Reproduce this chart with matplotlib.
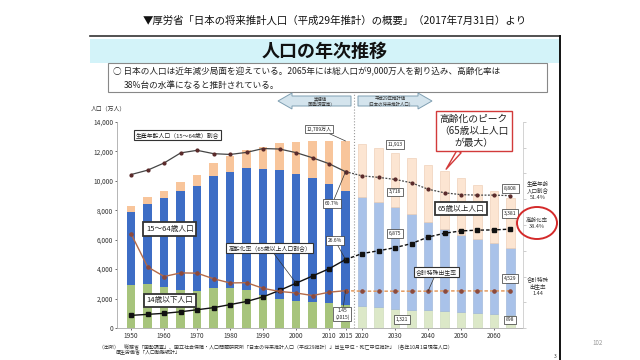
import matplotlib.pyplot as plt
from matplotlib.patches import Polygon, Ellipse, Rectangle
import numpy as np

plt.rcParams['font.family'] = ['Noto Sans CJK JP', 'DejaVu Sans']

#%% データ（万人）
years_act = [1950, 1955, 1960, 1965, 1970, 1975, 1980, 1985, 1990, 1995, 2000, 2005, 2010, 2015]
kids_act = [2943, 2980, 2807, 2553, 2482, 2722, 2751, 2603, 2249, 2001, 1847, 1752, 1680, 1595]
work_act = [4966, 5473, 6000, 6744, 7157, 7581, 7883, 8251, 8590, 8716, 8622, 8409, 8103, 7728]
old_act = [411, 475, 535, 624, 733, 887, 1065, 1247, 1489, 1826, 2204, 2576, 2925, 3387]

years_proj = [2020, 2025, 2030, 2035, 2040, 2045, 2050, 2055, 2060, 2065]
kids_proj = [1507, 1407, 1321, 1246, 1194, 1138, 1077, 1012, 951, 898]
work_proj = [7406, 7170, 6875, 6494, 5978, 5584, 5275, 5028, 4793, 4529]
old_proj = [3619, 3677, 3716, 3782, 3921, 3919, 3841, 3704, 3540, 3381]

# 割合（%）と合計特殊出生率
work_ratio = [59.6, 61.3, 64.1, 68.0, 69.0, 67.7, 67.4, 68.2, 69.7, 69.5, 68.1, 66.1, 63.8, 60.7,
              59.1, 58.5, 57.7, 56.4, 53.9, 52.5, 51.8, 51.6, 51.6, 51.4]
aging_rate = [4.9, 5.3, 5.7, 6.3, 7.1, 7.9, 9.1, 10.3, 12.1, 14.6, 17.4, 20.2, 23.0, 26.6,
              28.9, 30.0, 31.2, 32.8, 35.3, 36.8, 37.7, 38.0, 38.1, 38.4]
tfr = [3.65, 2.37, 2.00, 2.14, 2.13, 1.91, 1.75, 1.76, 1.54, 1.42, 1.36, 1.26, 1.39, 1.45,
       1.43, 1.43, 1.43, 1.43, 1.43, 1.44, 1.44, 1.44, 1.44, 1.44]

xtick_years = [1950, 1960, 1970, 1980, 1990, 2000, 2010, 2015, 2020, 2030, 2040, 2050, 2060]


def P(x, y):
    # 画面のピクセル(左上原点) -> figure座標
    return (x / 640, 1 - y / 360)


fig = plt.figure(figsize=(6.4, 3.6), dpi=100)
fig.patch.set_facecolor('white')

#%% 見出し部分
fig.text(*P(335, 21), '▼厚労省「日本の将来推計人口（平成29年推計）の概要」（2017年7月31日）より',
         ha='center', va='center', fontsize=7.5, color='#111')

fig.add_artist(plt.Line2D([90/640, 560/640], [1-36/360]*2, color='#333', lw=1.2))
fig.add_artist(plt.Line2D([560/640]*2, [1-36/360, 0], color='#111', lw=1.4))
fig.add_artist(Rectangle(P(90, 63), 470/640, 24/360, transform=fig.transFigure,
                         fc='#d3f3f9', ec='none'))
fig.text(*P(325, 51), '人口の年次推移', ha='center', va='center', fontsize=13,
         fontweight='bold', color='#111')

fig.add_artist(Rectangle(P(108, 92), 439/640, 29/360, transform=fig.transFigure,
                         fill=False, ec='#888', lw=0.8))
fig.text(*P(113, 72), '○ 日本の人口は近年減少局面を迎えている。2065年には総人口が9,000万人を割り込み、高齢化率は',
         ha='left', va='center', fontsize=6.2, color='#222')
fig.text(*P(124, 85), '38%台の水準になると推計されている。', ha='left', va='center',
         fontsize=6.2, color='#222')


def arrow(x0, x1, yc, left):
    hl, hh, bh = 14, 8, 5
    if left:
        pts = [(x0, yc), (x0+hl, yc-hh), (x0+hl, yc-bh), (x1, yc-bh), (x1, yc+bh),
               (x0+hl, yc+bh), (x0+hl, yc+hh)]
    else:
        pts = [(x1, yc), (x1-hl, yc-hh), (x1-hl, yc-bh), (x0, yc-bh), (x0, yc+bh),
               (x1-hl, yc+bh), (x1-hl, yc+hh)]
    fig.add_artist(Polygon([P(*p) for p in pts], closed=True, transform=fig.transFigure,
                           fc='#d4e4ed', ec='#7f9fb2', lw=0.7))


arrow(278, 351, 101, True)
arrow(358, 432, 101, False)
fig.text(*P(320, 101), '実績値\n（国勢調査等）', ha='center', va='center', fontsize=3.2,
         color='#333', linespacing=1.2)
fig.text(*P(390, 101), '平成29年推計値\n（日本の将来推計人口）', ha='center', va='center',
         fontsize=3.2, color='#333', linespacing=1.2)

#%% グラフ本体
ax = fig.add_axes([117/640, 1-328/360, 406/640, 206/360])
w = 2.6
ka = np.array(kids_act); wa = np.array(work_act); oa = np.array(old_act)
kp = np.array(kids_proj); wp = np.array(work_proj); op = np.array(old_proj)
ax.bar(years_act, ka, width=w, color='#a7c47c')
ax.bar(years_act, wa, bottom=ka, width=w, color='#3d6dc5')
ax.bar(years_act, oa, bottom=ka+wa, width=w, color='#f8c59b')
ax.bar(years_proj, kp, width=w, color='#dce8c8', ec='#c9d7b3', lw=0.4)
ax.bar(years_proj, wp, bottom=kp, width=w, color='#a9c2e9', ec='#97b0d8', lw=0.4)
ax.bar(years_proj, op, bottom=kp+wp, width=w, color='#fce5d2', ec='#ecc9ad', lw=0.4)

ax.set_xlim(1945.7, 2068.8)
ax.set_ylim(0, 14000)
ax.set_yticks(range(0, 14001, 2000))
ax.set_yticklabels(['{:,}'.format(v) for v in range(0, 14001, 2000)])
ax.set_xticks(xtick_years)
ax.set_xticklabels([str(y) for y in xtick_years])
ax.tick_params(labelsize=4.7, colors='#333', length=1.5, width=0.5, pad=1.2)
for s in ['top', 'right']:
    ax.spines[s].set_visible(False)
for s in ['left', 'bottom']:
    ax.spines[s].set_color('#aaa')
    ax.spines[s].set_linewidth(0.6)

split = (years_act[-1] + years_proj[0]) / 2
ax.axvline(split, ymin=0, ymax=(328-93)/206, color='#999', ls=':', lw=0.8, clip_on=False)

fig.text(*P(108, 109), '人口（万人）', ha='center', va='center', fontsize=4.2, color='#333')

#%% 折れ線（右軸 0～80%）
ax2 = ax.twinx()
ax2.set_ylim(0, 80)
ax2.set_yticks(range(0, 81, 10))
ax2.set_yticklabels([])
ax2.tick_params(length=2, width=0.5, colors='#bbb')
for s in ['top', 'left', 'bottom']:
    ax2.spines[s].set_visible(False)
ax2.spines['right'].set_color('#ccc')
ax2.spines['right'].set_linewidth(0.6)

n = len(years_act)
yrs = years_act + years_proj
tfr10 = [v * 10 for v in tfr]
ax2.plot(years_act, work_ratio[:n], color='#454545', lw=0.9, marker='o', ms=2.0,
         mfc='#5a2a2a', mec='#5a2a2a')
ax2.plot(yrs[n-1:], work_ratio[n-1:], color='#454545', lw=0.9, ls=(0, (1.5, 1.2)),
         marker='o', ms=2.0, mfc='#5a2a2a', mec='#5a2a2a')
ax2.plot(years_act, aging_rate[:n], color='#111', lw=1.0, marker='s', ms=2.4)
ax2.plot(yrs[n-1:], aging_rate[n-1:], color='#111', lw=1.0, ls=(0, (2.5, 1.5)),
         marker='s', ms=2.4)
ax2.plot(years_act, tfr10[:n], color='#b46a48', lw=1.0, marker='o', ms=2.3,
         mfc='#8c4a3c', mec='#8c4a3c')
ax2.plot(yrs[n-1:], tfr10[n-1:], color='#e0904f', lw=1.0, ls=(0, (2.5, 1.5)),
         marker='o', ms=2.3, mfc='#8c4a3c', mec='#8c4a3c')


def label(text, xy, fs=3.6, lw=0.5, point=None, pt_ax=ax2):
    kw = dict(xycoords=ax.transData, textcoords=ax.transData)
    if point is not None:
        kw['xycoords'] = pt_ax.transData
        kw['arrowprops'] = dict(arrowstyle='-', color='#333', lw=0.5, shrinkA=0, shrinkB=0)
    ax2.annotate(text, xy=point if point is not None else xy, xytext=xy, ha='center',
                 va='center', fontsize=fs, color='#222', linespacing=1.2,
                 bbox=dict(boxstyle='square,pad=0.35', fc='white', ec='#333', lw=lw), **kw)


tot_act = ka + wa + oa
tot_proj = kp + wp + op
label('生産年齢人口（15～64歳）割合', (1964, 13117), fs=4.2, lw=0.8)
label('15～64歳人口', (1961.7, 6728), fs=5.5, lw=1.3)
label('14歳以下人口', (1961.7, 1869), fs=5.5, lw=1.3)
label('高齢化率（65歳以上人口割合）', (1992, 5437), fs=4.2, lw=0.8,
      point=(years_act[10], aging_rate[10]))
label('12,709万人', (2007, 13524), point=(years_act[-1], tot_act[-1]), pt_ax=ax)
label('60.7%', (2011, 8461), point=(years_act[-1], work_ratio[n-1]))
label('26.6%', (2011.8, 5947), point=(years_act[-1], aging_rate[n-1]))
label('1.45\n(2015)', (2014, 951), point=(years_act[-1], tfr10[n-1]))
label('11,913', (2030, 12470))
label('3,716', (2030, 9243))
label('6,875', (2030, 6422))
label('1,321', (2032, 578))
label('8,808', (2065, 9480))
label('3,381', (2065, 7781))
label('4,529', (2065, 3364))
label('898', (2065, 544))
label('65歳以上人口', (2050, 8121), fs=5.5, lw=1.3)
label('合計特殊出生率', (2042.6, 3806), fs=4.2, lw=0.8, point=(2040, tfr10[n+4]))

ax2.annotate('高齢化のピーク\n（65歳以上人口\nが最大）', xy=(years_proj[5], tot_proj[5]),
             xycoords=ax.transData, xytext=P(474, 131), textcoords='figure fraction',
             ha='center', va='center', fontsize=7, color='#222', linespacing=1.25,
             multialignment='center',
             bbox=dict(boxstyle='square,pad=0.3', fc='white', ec='#d23a3a', lw=1.0),
             arrowprops=dict(arrowstyle='wedge,tail_width=0.5,shrink_factor=0.5',
                             fc='white', ec='#d23a3a', lw=1.0, shrinkA=0, shrinkB=2))

#%% 右側の説明
fig.text(*P(538, 190), '生産年齢\n人口割合\n51.4%', ha='center', va='center', fontsize=4,
         color='#333', linespacing=1.3)
fig.text(*P(537, 223), '高齢化率\n38.4%', ha='center', va='center', fontsize=4,
         color='#333', linespacing=1.3)
fig.text(*P(538, 286), '合計特殊\n出生率\n1.44', ha='center', va='center', fontsize=4,
         color='#333', linespacing=1.3)
fig.add_artist(Ellipse(P(537, 223), 40/640, 32/360, transform=fig.transFigure,
                       fill=False, ec='#d42a2a', lw=1.4))

#%% 出所
fig.text(*P(99, 346), '（出所）　総務省「国勢調査」、国立社会保障・人口問題研究所「日本の将来推計人口（平成29推計）」出生中位・死亡中位推計」（各年10月1日現在人口）',
         ha='left', va='center', fontsize=3.6, color='#333')
fig.text(*P(116, 353), '厚生労働省「人口動態統計」', ha='left', va='center', fontsize=3.6,
         color='#333')
fig.text(*P(598, 343), '102', ha='center', va='center', fontsize=4.5, color='#999')
fig.text(*P(555, 357), '3', ha='center', va='center', fontsize=3.5, color='#333')

fig.savefig('out.png', dpi=100)
